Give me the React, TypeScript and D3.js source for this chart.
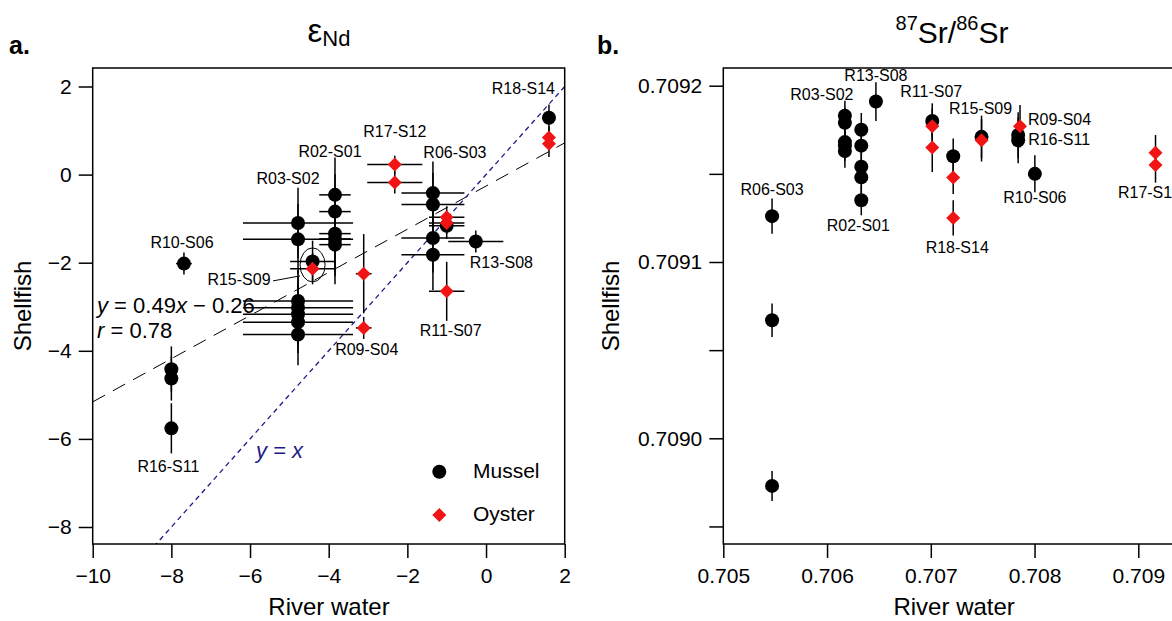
import React, { useEffect, useRef } from "react";
import * as d3 from "d3";

const FONT = "'Liberation Sans', Arial, Helvetica, sans-serif";
const RED = "#f01414";
const NAVY = "#1c1a86";

// ---------- Panel a: εNd (x, y, xErr, yErr) ----------
const ndMussel: [number, number, number, number][] = [
  [1.6, 1.29, 0.1, 0.3],
  [-3.84, -0.46, 0.4, 0.85],
  [-3.84, -0.84, 0.4, 0.85],
  [-3.84, -1.34, 0.4, 0.85],
  [-3.84, -1.46, 0.4, 0.85],
  [-3.84, -1.59, 0.4, 0.9],
  [-4.78, -1.1, 1.4, 0.8],
  [-4.78, -1.47, 1.4, 0.8],
  [-4.78, -2.87, 1.4, 0.7],
  [-4.78, -3.02, 1.4, 0.7],
  [-4.78, -3.17, 1.4, 0.7],
  [-4.78, -3.35, 1.4, 0.7],
  [-4.78, -3.63, 1.4, 0.7],
  [-4.41, -1.97, 0.57, 0.47],
  [-7.68, -2.02, 0.2, 0.25],
  [-8.0, -4.42, 0.05, 0.52],
  [-8.0, -4.63, 0.05, 0.5],
  [-8.0, -5.76, 0.05, 0.57],
  [-1.35, -0.42, 0.8, 0.72],
  [-1.35, -0.68, 0.8, 0.72],
  [-1.35, -1.44, 0.8, 0.78],
  [-1.35, -1.82, 0.8, 0.8],
  [-1.0, -1.16, 0.45, 0.3],
  [-0.26, -1.52, 0.7, 0.25],
];
const ndOyster: [number, number, number, number][] = [
  [1.6, 0.84, 0.1, 0.25],
  [1.6, 0.7, 0.1, 0.3],
  [-2.32, 0.23, 0.7, 0.2],
  [-2.32, -0.18, 0.7, 0.25],
  [-4.41, -2.14, 0.57, 0.35],
  [-3.11, -2.25, 0.2, 0.9],
  [-3.11, -3.48, 0.2, 0.25],
  [-1.0, -0.97, 0.45, 0.25],
  [-1.0, -1.1, 0.45, 0.25],
  [-1.0, -2.65, 0.45, 0.67],
];
// label text, anchor point (data), offset in px, text-anchor
const ndLabels: [string, number, number, number, number, string][] = [
  ["R18-S14", 1.6, 1.29, 6, -24, "end"],
  ["R17-S12", -2.32, 0.23, 0, -27, "middle"],
  ["R02-S01", -3.84, -0.46, -5, -38, "middle"],
  ["R03-S02", -4.78, -1.1, -10, -39, "middle"],
  ["R06-S03", -1.35, -0.42, 22, -35, "middle"],
  ["R10-S06", -7.68, -2.02, -2, -16, "middle"],
  ["R15-S09", -4.41, -1.97, -42, 24, "end"],
  ["R13-S08", -0.26, -1.52, -6, 26, "start"],
  ["R09-S04", -3.11, -3.48, 3, 27, "middle"],
  ["R11-S07", -1.0, -2.65, 4, 45, "middle"],
  ["R16-S11", -8.0, -5.76, -3, 44, "middle"],
];
const ndXTicks = [-10, -8, -6, -4, -2, 0, 2];
const ndYTicks = [2, 0, -2, -4, -6, -8];
const fitSlope = 0.49;
const fitIntercept = -0.26;
const fitR = 0.78;

// ---------- Panel b: 87Sr/86Sr (x, y, yErr) ----------
const srMussel: [number, number, number][] = [
  [0.70547, 0.709126, 0.00001],
  [0.70547, 0.709067, 0.0000095],
  [0.70547, 0.708973, 0.0000085],
  [0.706172, 0.709183, 0.0000085],
  [0.706172, 0.709179, 0.0000085],
  [0.706172, 0.709168, 0.0000085],
  [0.706172, 0.709166, 0.0000085],
  [0.706172, 0.709163, 0.0000095],
  [0.70633, 0.709175, 0.0000095],
  [0.70633, 0.709166, 0.000009],
  [0.70633, 0.709154, 0.000009],
  [0.70633, 0.709148, 0.000009],
  [0.70633, 0.709135, 0.0000085],
  [0.706471, 0.709191, 0.000011],
  [0.707014, 0.70918, 0.00001],
  [0.707216, 0.70916, 0.00001],
  [0.707489, 0.709171, 0.000012],
  [0.707842, 0.709172, 0.000013],
  [0.707842, 0.709169, 0.000013],
  [0.708003, 0.70915, 0.0000105],
];
const srOyster: [number, number, number][] = [
  [0.707014, 0.709177, 0.00001],
  [0.707014, 0.709165, 0.000014],
  [0.707216, 0.709148, 0.0000095],
  [0.707216, 0.709125, 0.00001],
  [0.707489, 0.709169, 0.000012],
  [0.70786, 0.709177, 0.000012],
  [0.709166, 0.709162, 0.00001],
  [0.709166, 0.709155, 0.00001],
];
const srLabels: [string, number, number, number, number, string][] = [
  ["R13-S08", 0.706471, 0.709191, 0, -21, "middle"],
  ["R03-S02", 0.706172, 0.709183, -23, -16, "middle"],
  ["R11-S07", 0.707014, 0.70918, -1, -24, "middle"],
  ["R15-S09", 0.707489, 0.709171, -1, -23, "middle"],
  ["R09-S04", 0.70786, 0.709177, 8, -1, "start"],
  ["R16-S11", 0.707842, 0.709171, 10, 8, "start"],
  ["R06-S03", 0.70547, 0.709126, 0, -21, "middle"],
  ["R02-S01", 0.70633, 0.709135, -3, 31, "middle"],
  ["R10-S06", 0.708003, 0.70915, 0, 29, "middle"],
  ["R18-S14", 0.707216, 0.709125, 4, 35, "middle"],
  ["R17-S12", 0.709166, 0.709155, -6, 33, "middle"],
];
const srXTicks = [0.705, 0.706, 0.707, 0.708, 0.709];
const srYTicks = [0.7092, 0.70915, 0.7091, 0.70905, 0.709, 0.70895];
const srYMajor = [0.7092, 0.7091, 0.709];

// ---------- layout ----------
const W = 1172;
const H = 621;
const TOP = 68;
const BOTTOM = 544;

const xL = d3.scaleLinear().domain([-10, 2]).range([92.7, 564.7]);
const yL = d3.scaleLinear().domain([2, -8]).range([86.5, 527]);
const xR = d3.scaleLinear().domain([0.705, 0.709]).range([723.3, 1138.3]);
const yR = d3.scaleLinear().domain([0.7092, 0.709]).range([85.7, 438.3]);
const R_RIGHT = xR(0.70945);

function Axis({ scale, orient, transform, values, format, padding }: any) {
  const ref = useRef<SVGGElement>(null);
  useEffect(() => {
    const ax = (orient === "left" ? d3.axisLeft(scale) : d3.axisBottom(scale))
      .tickValues(values)
      .tickFormat(format)
      .tickSize(14)
      .tickSizeOuter(0)
      .tickPadding(padding);
    const g = d3.select(ref.current as SVGGElement);
    g.call(ax as any);
    g.select(".domain").remove();
    g.attr("font-size", null).attr("font-family", null);
    g.selectAll("line").attr("stroke", "#000").attr("stroke-width", 1.5);
    g.selectAll("text")
      .attr("font-size", 21)
      .attr("font-family", FONT)
      .attr("fill", "#000");
  }, []);
  return <g ref={ref} transform={transform} />;
}

const diamond = (cx: number, cy: number, s: number) =>
  `M${cx},${cy - s}L${cx + s},${cy}L${cx},${cy + s}L${cx - s},${cy}Z`;

export default function App() {
  const lineFit = d3
    .line<number>()
    .x((d) => xL(d))
    .y((d) => yL(fitSlope * d + fitIntercept));
  const lineId = d3
    .line<number>()
    .x((d) => xL(d))
    .y((d) => yL(d));

  const fmtNeg = (d: any) => d3.format("")(d).replace("-", "\u2212");

  return (
    <svg
      width={W}
      height={H}
      style={{ position: "absolute", left: 0, top: 0, background: "#fff" }}
      fontFamily={FONT}
    >
      <rect width={W} height={H} fill="#fff" />
      <defs>
        <clipPath id="clipL">
          <rect x={xL(-10)} y={TOP} width={xL(2) - xL(-10)} height={BOTTOM - TOP} />
        </clipPath>
      </defs>

      {/* ===== Panel a ===== */}
      <text x={9} y={54} fontSize={25} fontWeight="bold">a.</text>
      <text x={329} y={42} textAnchor="middle">
        <tspan fontSize={33}>ε</tspan>
        <tspan fontSize={22} dy={4}>Nd</tspan>
      </text>

      <g clipPath="url(#clipL)">
        <path
          d={lineFit([-10, 2]) || ""}
          fill="none"
          stroke="#000"
          strokeWidth={1}
          strokeDasharray="14,9"
        />
        <path
          d={lineId([-8.6, 2.6]) || ""}
          fill="none"
          stroke={NAVY}
          strokeWidth={1.3}
          strokeDasharray="5,4"
        />
      </g>

      {/* error bars */}
      <g stroke="#000" strokeWidth={1.5}>
        {[...ndMussel, ...ndOyster].map((d, i) => (
          <g key={"ebL" + i}>
            <line x1={xL(d[0] - d[2])} x2={xL(d[0] + d[2])} y1={yL(d[1])} y2={yL(d[1])} />
            <line x1={xL(d[0])} x2={xL(d[0])} y1={yL(d[1] - d[3])} y2={yL(d[1] + d[3])} />
          </g>
        ))}
      </g>

      {/* R15-S09 ellipse */}
      <ellipse
        cx={xL(-4.41)}
        cy={yL(-2.05)}
        rx={12.5}
        ry={17}
        fill="none"
        stroke="#000"
        strokeWidth={1}
      />

      {ndMussel.map((d, i) => (
        <circle key={"mL" + i} cx={xL(d[0])} cy={yL(d[1])} r={7} fill="#000" />
      ))}
      {ndOyster.map((d, i) => (
        <path key={"oL" + i} d={diamond(xL(d[0]), yL(d[1]), 7)} fill={RED} />
      ))}

      {/* labels */}
      {ndLabels.map((l, i) => (
        <text
          key={"lL" + i}
          x={xL(l[1]) + l[3]}
          y={yL(l[2]) + l[4]}
          textAnchor={l[5] as any}
          fontSize={16}
        >
          {l[0]}
        </text>
      ))}
      <line
        x1={xL(-4.41) - 39.5}
        y1={yL(-1.97) + 19.5}
        x2={xL(-4.41) - 12.5}
        y2={yL(-1.97) + 14.5}
        stroke="#000"
        strokeWidth={1}
      />

      {/* regression text */}
      <text x={97} y={313} fontSize={22}>
        <tspan fontStyle="italic">y</tspan>
        <tspan>{` = ${fitSlope}`}</tspan>
        <tspan fontStyle="italic">x</tspan>
        <tspan>{` \u2212 ${Math.abs(fitIntercept)}`}</tspan>
      </text>
      <text x={97} y={338} fontSize={22}>
        <tspan fontStyle="italic">r</tspan>
        <tspan>{` = ${fitR}`}</tspan>
      </text>
      <text x={256} y={458} fontSize={22} fill={NAVY} fontStyle="italic">
        y = x
      </text>

      {/* legend */}
      <circle cx={439.3} cy={471.7} r={7} fill="#000" />
      <text x={473} y={478} fontSize={21}>Mussel</text>
      <path d={diamond(439.3, 515, 7)} fill={RED} />
      <text x={473} y={521} fontSize={21}>Oyster</text>

      <rect
        x={xL(-10)}
        y={TOP}
        width={xL(2) - xL(-10)}
        height={BOTTOM - TOP}
        fill="none"
        stroke="#000"
        strokeWidth={1.5}
      />
      <Axis
        scale={yL}
        orient="left"
        transform={`translate(${xL(-10)},0)`}
        values={ndYTicks}
        format={fmtNeg}
        padding={7}
      />
      <Axis
        scale={xL}
        orient="bottom"
        transform={`translate(0,${BOTTOM})`}
        values={ndXTicks}
        format={fmtNeg}
        padding={10}
      />
      <text x={329} y={615} textAnchor="middle" fontSize={24}>River water</text>
      <text transform="translate(31,306) rotate(-90)" textAnchor="middle" fontSize={24}>
        Shellfish
      </text>

      {/* ===== Panel b ===== */}
      <text x={597} y={54} fontSize={25} fontWeight="bold">b.</text>
      <text x={952} y={43} textAnchor="middle" fontSize={30}>
        <tspan fontSize={20} dy={-13}>87</tspan>
        <tspan dy={13}>Sr/</tspan>
        <tspan fontSize={20} dy={-13}>86</tspan>
        <tspan dy={13}>Sr</tspan>
      </text>

      <g stroke="#000" strokeWidth={1.5}>
        {[...srMussel, ...srOyster].map((d, i) => (
          <line
            key={"ebR" + i}
            x1={xR(d[0])}
            x2={xR(d[0])}
            y1={yR(d[1] - d[2])}
            y2={yR(d[1] + d[2])}
          />
        ))}
      </g>
      {srMussel.map((d, i) => (
        <circle key={"mR" + i} cx={xR(d[0])} cy={yR(d[1])} r={7} fill="#000" />
      ))}
      {srOyster.map((d, i) => (
        <path key={"oR" + i} d={diamond(xR(d[0]), yR(d[1]), 7)} fill={RED} />
      ))}
      {srLabels.map((l, i) => (
        <text
          key={"lR" + i}
          x={xR(l[1]) + l[3]}
          y={yR(l[2]) + l[4]}
          textAnchor={l[5] as any}
          fontSize={16}
        >
          {l[0]}
        </text>
      ))}

      <rect
        x={xR(0.705)}
        y={TOP}
        width={R_RIGHT - xR(0.705)}
        height={BOTTOM - TOP}
        fill="none"
        stroke="#000"
        strokeWidth={1.5}
      />
      <Axis
        scale={yR}
        orient="left"
        transform={`translate(${xR(0.705)},0)`}
        values={srYTicks}
        format={(d: number) => (srYMajor.some((m) => Math.abs(m - d) < 1e-9) ? d3.format(".4f")(d) : "")}
        padding={7}
      />
      <Axis
        scale={xR}
        orient="bottom"
        transform={`translate(0,${BOTTOM})`}
        values={srXTicks}
        format={d3.format(".3f")}
        padding={10}
      />
      <text x={(xR(0.705) + R_RIGHT) / 2} y={615} textAnchor="middle" fontSize={24}>
        River water
      </text>
      <text transform="translate(619,306) rotate(-90)" textAnchor="middle" fontSize={24}>
        Shellfish
      </text>
    </svg>
  );
}
